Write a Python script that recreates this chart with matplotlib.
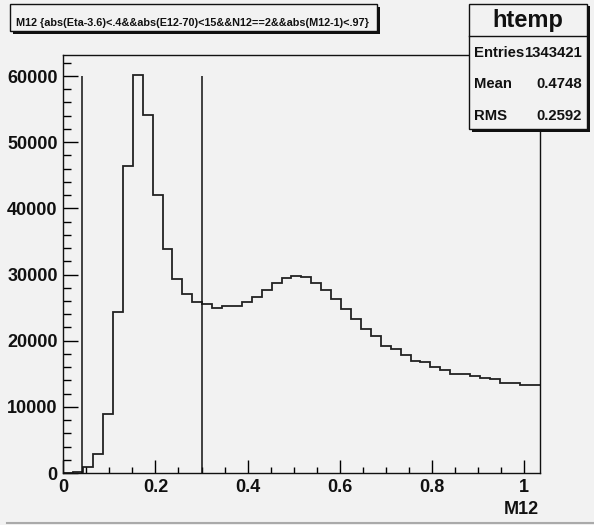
import numpy as np
import matplotlib
matplotlib.use("Agg")
import matplotlib.pyplot as plt
from matplotlib.patches import Rectangle
from matplotlib.lines import Line2D

plt.rcParams['font.family'] = ['Liberation Sans', 'DejaVu Sans']

# Histogram of M12 (48 bins), counts
nbins = 48
x_lo, x_hi = 0.0, 1.0335
counts = [0, 150, 900, 2930, 8990, 24360, 46440, 60170, 54070, 42010,
          33840, 29350, 27080, 25800, 25550, 24960, 25220, 25220, 25820, 26630,
          27690, 28740, 29400, 29830, 29650, 28780, 27700, 26230, 24750, 23250,
          21790, 20760, 19270, 18690, 17800, 16970, 16720, 15950, 15540, 14890,
          14890, 14680, 14430, 14220, 13620, 13620, 13370, 13370]
cut_lines = [0.04, 0.3]
cut_top = 60000

title_text = "M12 {abs(Eta-3.6)<.4&&abs(E12-70)<15&&N12==2&&abs(M12-1)<.97}"
stats_name = "htemp"
stats_rows = [("Entries", "1343421"), ("Mean", "0.4748"), ("RMS", "0.2592")]
x_label = "M12"

W, H = 594, 525
bg = '#f2f2f2'
fig = plt.figure(figsize=(W / 100, H / 100), dpi=100, facecolor=bg)


def fx(px):
    return px / W


def fy(py):
    return 1 - py / H


ax = fig.add_axes([fx(63.3), fy(473), fx(539.5) - fx(63.3), fy(55) - fy(473)])
ax.set_facecolor(bg)

edges = np.linspace(x_lo, x_hi, nbins + 1)
ax.stairs(counts, edges, color='#222222', lw=1.3, baseline=None)
ax.vlines(cut_lines, 0, cut_top, color='#111111', lw=1.1)

ax.set_xlim(x_lo, x_hi)
ax.set_ylim(0, max(counts) * 1.05)
ax.set_xticks([0, 0.2, 0.4, 0.6, 0.8, 1.0])
ax.set_xticklabels(['0', '0.2', '0.4', '0.6', '0.8', '1'])
ax.set_xticks(np.arange(0, 1.03, 0.05), minor=True)
ax.set_yticks(np.arange(0, 60001, 10000))
ax.set_yticks(np.arange(0, 63001, 2000), minor=True)
for s in ax.spines.values():
    s.set_linewidth(1.0)
    s.set_color('#111111')
ax.tick_params(axis='x', which='major', direction='in', length=9.1, width=1.0, pad=4)
ax.tick_params(axis='x', which='minor', direction='in', length=4.3, width=1.0)
ax.tick_params(axis='y', which='major', direction='in', length=10.8, width=1.0, pad=4)
ax.tick_params(axis='y', which='minor', direction='in', length=5.8, width=1.0)
for lab in ax.get_xticklabels() + ax.get_yticklabels():
    lab.set_fontweight('bold')
    lab.set_fontsize(13)
    lab.set_color('#111111')

fig.text(fx(538.5), fy(514), x_label, ha='right', va='baseline',
         fontsize=13, fontweight='bold', color='#111111')


def root_box(x0, y0, x1, y1):
    # box with ROOT-style drop shadow, given in pixels from the top-left
    fig.patches.append(Rectangle((fx(x0 + 3), fy(y1 + 2.5)), fx(x1) - fx(x0),
                                 fy(y0) - fy(y1), transform=fig.transFigure,
                                 facecolor='#111111', edgecolor='none', zorder=5))
    fig.patches.append(Rectangle((fx(x0), fy(y1)), fx(x1) - fx(x0),
                                 fy(y0) - fy(y1), transform=fig.transFigure,
                                 facecolor=bg, edgecolor='#111111', lw=1.0, zorder=6))


# title box
root_box(10, 4, 377, 31)
fig.text(fx(16), fy(25.5), title_text, ha='left', va='baseline', fontsize=7.8,
         fontweight='bold', color='#111111', zorder=7)

# stats box
root_box(469, 4, 587, 129)
fig.add_artist(Line2D([fx(469), fx(587)], [fy(35.7), fy(35.7)], color='#111111',
                      lw=1.0, zorder=7))
fig.text(fx(528), fy(27), stats_name, ha='center', va='baseline', fontsize=17,
         fontweight='bold', color='#111111', zorder=7)
for (name, val), yb in zip(stats_rows, [56.7, 88.3, 120]):
    fig.text(fx(474), fy(yb), name, ha='left', va='baseline', fontsize=10.7,
             fontweight='bold', color='#111111', zorder=7)
    fig.text(fx(582), fy(yb), val, ha='right', va='baseline', fontsize=10.7,
             fontweight='bold', color='#111111', zorder=7)

# pad border at the bottom
fig.add_artist(Line2D([fx(7), fx(594)], [fy(523), fy(523)], color='#aaaaaa', lw=1.5))

fig.savefig('out.png', dpi=100, facecolor=bg)
